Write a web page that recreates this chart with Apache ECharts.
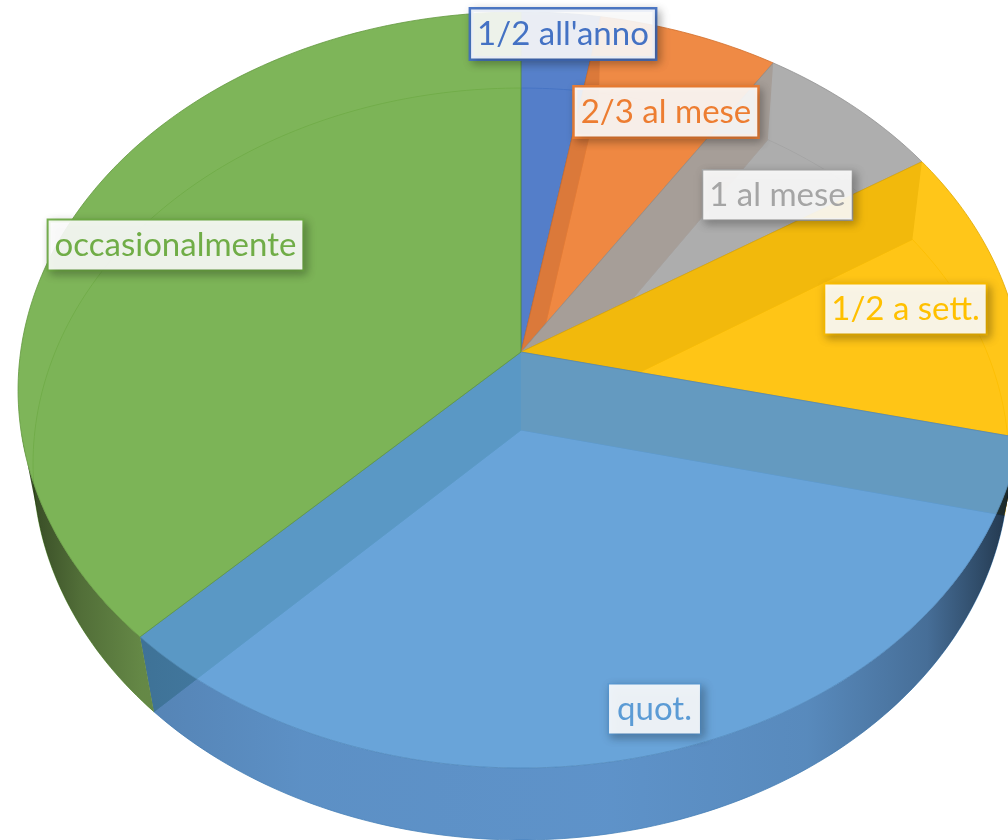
<!DOCTYPE html>
<html>
<head>
<meta charset="utf-8">
<style>html,body{margin:0;padding:0;background:#fff}#c{width:1008px;height:840px}</style>
<script src="https://cdn.jsdelivr.net/npm/echarts@6/dist/echarts.min.js"></script>
</head>
<body>
<div id="c"></div>
<script>
// --- data (percent of the whole) ---
const categories = ["1/2 all'anno", "2/3 al mese", "1 al mese", "1/2 a sett.", "quot.", "occasionalmente"];
const values = [2.8, 6.4, 6.8, 12.6, 33.9, 37.5];

// --- styles and layout ---
const colors = [[68,114,196],[237,125,49],[165,165,165],[255,192,0],[91,155,213],[112,173,71]];
const rimColors = [[68,114,196],[237,125,49],[165,165,165],[255,192,0],[100,152,206],[118,156,84]];
const labelCenters = [[563,34],[666,112],[777.5,195],[905.5,309],[654.5,709],[175.5,245]];
const labelBorderWidth = [2.5,2.5,1.5,2,1.5,2];
const labelPaddingX = [6,6,6,6,8,6];
const topFace = {cx:521, cy:352, A:500.4, B:374.2, k:0.1005};
const bottomFace = {cx:521, cy:430, A:486, B:372.9, k:0.0904};
const rimFrom = 100, rimTo = 258;
const rimOpacity = 0.85;
const rimShade = [[0.02,0.42],[0.04,0.54],[0.08,0.72],[0.14,0.88],[0.3,0.96],[0.6,0.98],[0.8,0.92],[0.92,0.74],[0.97,0.52],[1,0.38]];

const total = values.reduce((a,b)=>a+b,0);
const rgb = (c,f,a) => `rgba(${Math.round(c[0]*f)},${Math.round(c[1]*f)},${Math.round(c[2]*f)},${a})`;
function rimColor(c,f){
  const ch=v=>Math.max(0,Math.round((v*f-255*(1-rimOpacity))/rimOpacity));
  return `rgb(${ch(c[0])},${ch(c[1])},${ch(c[2])})`;
}
function startAngle(i){ let s=0; for(let j=0;j<i;j++) s+=values[j]; return s/total*360; }
function project(face,deg){
  const t=deg*Math.PI/180, u=Math.sin(t), v=Math.cos(t), d=1+face.k*v;
  return [face.cx+face.A*u/d, face.cy-face.B*v/d];
}
function arc(face,a0,a1){
  const pts=[], n=Math.max(2,Math.ceil(Math.abs(a1-a0)));
  for(let i=0;i<=n;i++) pts.push(project(face,a0+(a1-a0)*i/n));
  return pts;
}
function slicePolygon(face,i,fill,stroke){
  const a0=startAngle(i), a1=startAngle(i+1);
  return {type:'polygon', silent:true,
    shape:{points:[[face.cx,face.cy]].concat(arc(face,a0,a1))},
    style:{fill:fill, stroke:stroke, lineWidth:1, lineJoin:'round'}};
}

const renderBottom = (p,api)=>{
  const i=p.dataIndex, c=colors[i];
  return slicePolygon(bottomFace,i,rgb(c,1,0.15),rgb(c,0.85,0.8));
};
const renderWall = (p,api)=>{
  const i=p.dataIndex;
  if(i===values.length-1) return null;
  const th=startAngle(i+1);
  const c=th<180?colors[i]:colors[i+1];
  return {type:'polygon', silent:true,
    shape:{points:[[topFace.cx,topFace.cy],project(topFace,th),project(bottomFace,th),[bottomFace.cx,bottomFace.cy]]},
    style:{fill:rgb(c,0.73,1)}};
};
const renderRim = (p,api)=>{
  const i=p.dataIndex, c=rimColors[i];
  const a0=Math.max(startAngle(i),rimFrom), a1=Math.min(startAngle(i+1),rimTo);
  if(a1<=a0) return null;
  const pts=arc(topFace,a0,a1).concat(arc(bottomFace,a1,a0));
  const grad=new echarts.graphic.LinearGradient(0,0,1008,0,
    rimShade.map(s=>({offset:s[0],color:rimColor(c,s[1])})),true);
  return {type:'polygon', silent:true, shape:{points:pts},
    style:{fill:grad, opacity:rimOpacity}};
};
const renderTop = (p,api)=>{
  const i=p.dataIndex, c=colors[i];
  return slicePolygon(topFace,i,rgb(c,1,0.9),rgb(c,0.88,0.8));
};
const renderLabel = (p,api)=>{
  const i=p.dataIndex, c=colors[i], xy=labelCenters[i], px=labelPaddingX[i];
  return {type:'text', silent:true, x:xy[0], y:xy[1],
    style:{text:categories[i], fill:rgb(c,1,1), font:'33px Lato', align:'center', verticalAlign:'middle',
      backgroundColor:'rgba(255,255,255,0.89)', borderColor:rgb(c,1,0.95), borderWidth:labelBorderWidth[i],
      padding:[9,px,7,px], shadowColor:'rgba(0,0,0,0.28)', shadowBlur:9, shadowOffsetX:3, shadowOffsetY:3}};
};

const layer=(name,z,fn)=>({type:'custom', name, coordinateSystem:'none', z, silent:true, animation:false,
  clip:false, renderItem:fn, data:values.map((v,i)=>({name:categories[i],value:[v]}))});

const chart=echarts.init(document.getElementById('c'),null,{renderer:'canvas',width:1008,height:840});
chart.setOption({
  animation:false, backgroundColor:'#ffffff',
  series:[layer('bottom',1,renderBottom),layer('walls',2,renderWall),layer('rim',3,renderRim),
          layer('top',4,renderTop),layer('labels',5,renderLabel)]
});
</script>
</body>
</html>
